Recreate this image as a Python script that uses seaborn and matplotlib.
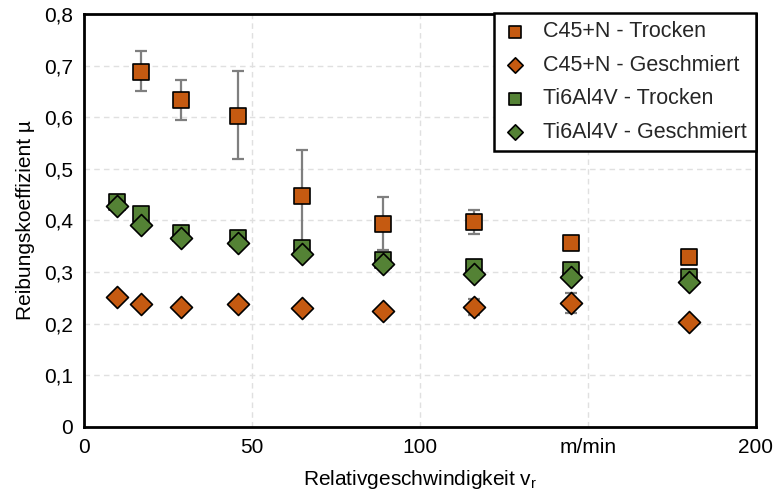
import matplotlib
matplotlib.use("Agg")
import matplotlib.pyplot as plt
import seaborn as sns
import numpy as np
import pandas as pd
from matplotlib.ticker import FuncFormatter, FixedLocator

# Data
speed = [10, 17, 29, 46, 65, 89, 116, 145, 180]
c45_dry_x = [17, 29, 46, 65, 89, 116, 145, 180]
c45_dry = [0.688, 0.634, 0.602, 0.447, 0.393, 0.396, 0.356, 0.329]
c45_dry_lo = [0.650, 0.595, 0.519, 0.345, 0.342, 0.373, 0.356, 0.329]
c45_dry_hi = [0.729, 0.672, 0.690, 0.536, 0.445, 0.421, 0.356, 0.329]
c45_lub = [0.251, 0.239, 0.233, 0.238, 0.231, 0.225, 0.232, 0.241, 0.204]
c45_lub_lo = [0.251, 0.239, 0.233, 0.238, 0.231, 0.225, 0.217, 0.221, 0.204]
c45_lub_hi = [0.251, 0.239, 0.233, 0.238, 0.231, 0.225, 0.248, 0.259, 0.204]
ti_dry = [0.436, 0.413, 0.375, 0.365, 0.346, 0.323, 0.310, 0.304, 0.290]
ti_lub = [0.428, 0.392, 0.366, 0.357, 0.335, 0.315, 0.297, 0.290, 0.281]
x_ticks = [0, 50, 100, 150, 200]
x_ticklabels = ["0", "50", "100", "m/min", "200"]
y_ticks = [0, 0.1, 0.2, 0.3, 0.4, 0.5, 0.6, 0.7, 0.8]

sns.set_theme(style="white")
plt.rcParams['font.family'] = ['Liberation Sans', 'DejaVu Sans']

orange = "#C55A11"
green = "#548235"
errc = "#7F7F7F"

fig = plt.figure(figsize=(7.76, 4.97), dpi=100)
ax = fig.add_axes([0.108, 0.141, 0.866, 0.831])

# error bars
ax.errorbar(c45_dry_x, c45_dry,
            yerr=[np.array(c45_dry) - np.array(c45_dry_lo), np.array(c45_dry_hi) - np.array(c45_dry)],
            fmt="none", ecolor=errc, elinewidth=1.6, capsize=4.5, capthick=1.6, zorder=1)
ax.errorbar(speed, c45_lub,
            yerr=[np.array(c45_lub) - np.array(c45_lub_lo), np.array(c45_lub_hi) - np.array(c45_lub)],
            fmt="none", ecolor=errc, elinewidth=1.6, capsize=4.5, capthick=1.6, zorder=1)

kw = dict(ax=ax, edgecolor="black", linewidth=1.2, zorder=3)
sns.scatterplot(x=c45_dry_x, y=c45_dry, marker="s", s=140, color=orange, label="C45+N - Trocken", **kw)
sns.scatterplot(x=speed, y=c45_lub, marker="D", s=125, color=orange, label="C45+N - Geschmiert", **kw)
sns.scatterplot(x=speed, y=ti_dry, marker="s", s=140, color=green, label="Ti6Al4V - Trocken", **kw)
sns.scatterplot(x=speed, y=ti_lub, marker="D", s=125, color=green, label="Ti6Al4V - Geschmiert", **kw)

ax.set_xlim(0, 200)
ax.set_ylim(0, 0.8)
ax.xaxis.set_major_locator(FixedLocator(x_ticks))
ax.set_xticklabels(x_ticklabels)
ax.yaxis.set_major_locator(FixedLocator(y_ticks))
ax.yaxis.set_major_formatter(FuncFormatter(lambda v, p: ("%g" % round(v, 2)).replace(".", ",")))
ax.tick_params(axis="both", length=0, labelsize=15, colors="black", pad=8)
ax.grid(True, color="#E0E0E0", linestyle=(0, (4, 3)), linewidth=1.0)
ax.set_axisbelow(True)
for sp in ax.spines.values():
    sp.set_color("black")
    sp.set_linewidth(2)

ax.set_xlabel(r"Relativgeschwindigkeit v$_\mathregular{r}$", fontsize=15, color="black", labelpad=8)
ax.set_ylabel("Reibungskoeffizient µ", fontsize=15, color="black", labelpad=6)

leg = ax.legend(loc="upper right", bbox_to_anchor=(1.0, 1.003), borderaxespad=0, fontsize=15.5,
                frameon=True, fancybox=False, edgecolor="black", framealpha=1, borderpad=0.4,
                labelspacing=0.58, handletextpad=0.7, handlelength=1.2, markerscale=0.7)
leg.get_frame().set_linewidth(1.8)
leg.set_zorder(5)

fig.savefig("out.png", dpi=100)
